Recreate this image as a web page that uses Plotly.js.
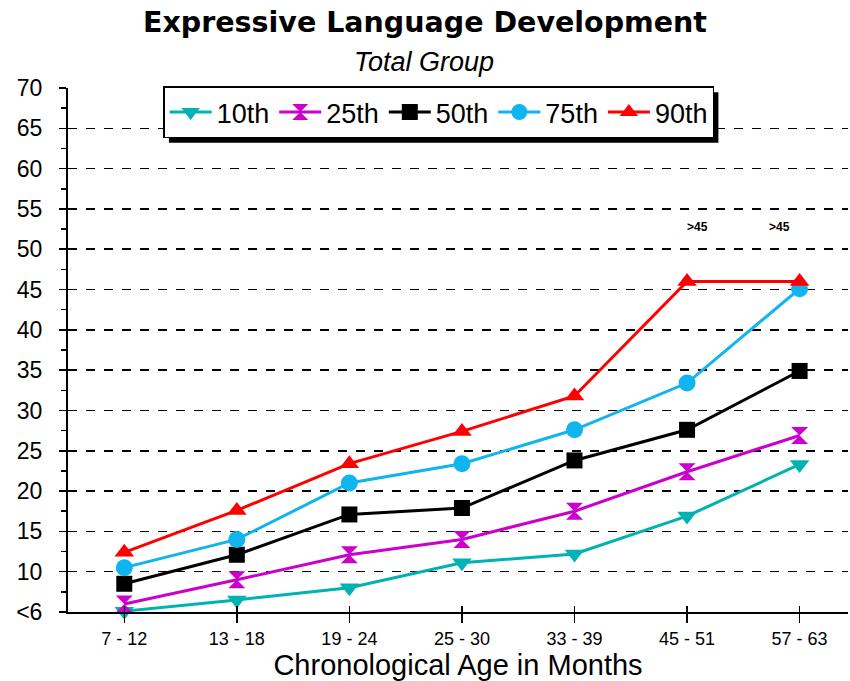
<!DOCTYPE html>
<html><head><meta charset="utf-8">
<script src="https://cdn.plot.ly/plotly-3.0.1.min.js"></script>
<style>html,body{margin:0;padding:0;background:#fff}#c{width:850px;height:681px}</style>
</head><body><div id="c"></div>
<script>
const ageGroups = ["7 - 12","13 - 18","19 - 24","25 - 30","33 - 39","45 - 51","57 - 63"];
const p10 = [5.1, 6.5, 8.0, 11.1, 12.2, 16.9, 23.3];
const p25 = [6.0, 9.0, 12.1, 14.0, 17.5, 22.4, 26.9];
const p50 = [8.5, 12.1, 17.1, 17.9, 23.8, 27.6, 34.9];
const p75 = [10.5, 14.0, 21.0, 23.4, 27.6, 33.4, 45.1];
const p90 = [12.4, 17.6, 23.4, 27.4, 31.8, 46.0, 46.0];
const seriesNames = ["10th","25th","50th","75th","90th"];
const yTickVals = [5,10,15,20,25,30,35,40,45,50,55,60,65,70];
const yTickText = ["<6","10","15","20","25","30","35","40","45","50","55","60","65","70"];
const capCategories = ["45 - 51","57 - 63"];
const capY = [52.7, 52.7];
const capText = [">45", ">45"];

const colors = ["#00B2B2","#CC00CC","#000000","#10B4EE","#FF0000"];
const symbols = ["triangle-down","hourglass","square","circle","triangle-up"];
const sizes = [17,17,16,17,17];
const data = [p10,p25,p50,p75,p90].map((v,i)=>({
  type:'scatter', mode:'lines+markers', x:ageGroups, y:v, name:seriesNames[i], cliponaxis:false,
  line:{color:colors[i], width:3},
  marker:{color:colors[i], symbol:symbols[i], size:sizes[i], line:{width:0}}
}));
data.push({type:'scatter', x:ageGroups, y:ageGroups.map(()=>null), xaxis:'x2', yaxis:'y2', showlegend:false, hoverinfo:'skip'});

const F = "Liberation Sans, Arial, sans-serif";
const ax = {
  type:'category', range:[-0.5,6.43], showgrid:false, zeroline:false,
  showline:true, linecolor:'#000', linewidth:2, ticks:'outside', ticklen:9, tickwidth:1.5, tickcolor:'#000',
  tickfont:{family:F,size:18,color:'#000'}
};
const layout = {
  width:850, height:681, paper_bgcolor:'#fff', plot_bgcolor:'#fff',
  margin:{l:68,r:2,t:88,b:69},
  showlegend:true,
  title:{text:"<b>Expressive Language Development</b>", font:{family:"DejaVu Sans, Verdana, sans-serif", size:28.5, color:'#000'}, x:0.5, xanchor:'center', y:0.968, yanchor:'middle'},
  xaxis:Object.assign({}, ax, {title:{text:"Chronological Age in Months", font:{family:F,size:29,color:'#000'}, standoff:4}}),
  xaxis2:Object.assign({}, ax, {overlaying:'x', anchor:'y2', ticks:'inside', ticklen:6, showticklabels:false}),
  yaxis:{range:[5,70], tickvals:yTickVals, ticktext:yTickText, showline:true, linecolor:'#000', linewidth:2,
    ticks:'outside', ticklen:7, tickwidth:1.5, tickcolor:'#000', zeroline:false, ticklabelstandoff:12,
    showgrid:true, gridcolor:'#000', griddash:'dash', gridwidth:1.5,
    minor:{dtick:2.5, tick0:5, ticks:'outside', ticklen:5, tickcolor:'#000', tickwidth:1.5, showgrid:false},
    tickfont:{family:F,size:23,color:'#000'}},
  yaxis2:{range:[5,70], overlaying:'y', anchor:'x2', tickvals:[10,15,20,25,30,35,40,45,50,55,60,65,70], showticklabels:false,
    ticks:'inside', ticklen:7, tickwidth:1.5, tickcolor:'#000', showgrid:false, zeroline:false, showline:false},
  legend:{orientation:'h', x:0.122, y:1.003, xanchor:'left', yanchor:'top', bgcolor:'#fff', bordercolor:'#000', borderwidth:1.5,
    font:{family:F,size:27,color:'#000'}, itemwidth:42, traceorder:'normal', tracegroupgap:0},
  annotations:[
    {xref:'paper', yref:'paper', x:0.5, y:1.05, text:"<i>Total Group</i>", showarrow:false, font:{family:F,size:27,color:'#000'}, xanchor:'center', yanchor:'middle', xshift:-34},
  ].concat(capCategories.map((c,i)=>({xref:'x', yref:'y', x:c, y:capY[i], text:"<b>"+capText[i]+"</b>", showarrow:false, font:{family:F,size:12,color:'#000'}, xshift:i===0?10:-20}))),
  shapes:[]
};
const gd = document.getElementById('c');
Plotly.newPlot(gd, data, layout, {staticPlot:true}).then(()=>{
  const bg = gd.querySelector('.legend .bg');
  if(!bg) return;
  const r = bg.getBoundingClientRect();
  const s = gd._fullLayout._size;
  const off = 5;
  const toX = px => (px - s.l)/s.w;
  const toY = py => (s.t + s.h - py)/s.h;
  return Plotly.relayout(gd, {shapes:[{type:'rect', xref:'paper', yref:'paper', layer:'above',
    x0:toX(r.left+off), x1:toX(r.right+off), y0:toY(r.bottom+off), y1:toY(r.top+off),
    fillcolor:'#000', line:{width:0}}]});
});
</script></body></html>
